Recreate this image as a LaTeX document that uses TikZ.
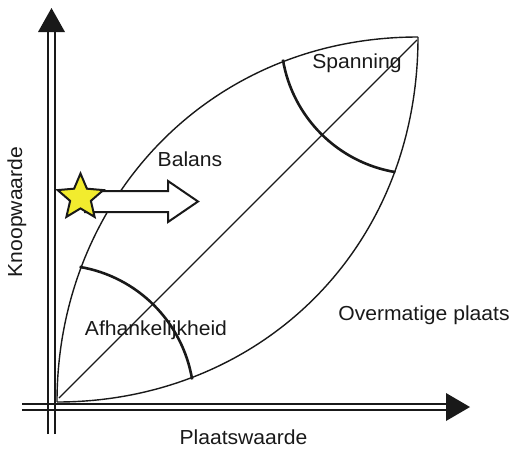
\documentclass[tikz,border=0pt]{standalone}
\usepackage{fontspec}
\setmainfont{Liberation Sans}[FakeStretch=1.04]
\usetikzlibrary{shapes.geometric}
\definecolor{staryellow}{RGB}{242,236,46}
\tikzset{
  axisline/.style={line width=2pt, black!90},
  axishead/.style={fill=black!90, draw=none},
  curve/.style={line width=1.4pt, black!90},
  diag/.style={line width=1.2pt, black!90},
  zone/.style={line width=2.6pt, black!90},
  lbl/.style={font=\fontsize{20.3}{23}\selectfont, text=black!90, inner sep=0pt},
}
\begin{document}
\begin{tikzpicture}[x=1pt,y=-1pt]
\useasboundingbox (0,0) rectangle (513,448);
% axes
\draw[axisline] (48,434) -- (48,32);
\draw[axisline] (55,434) -- (55,32);
\fill[axishead] (38,32) -- (65,32) -- (51.5,8) -- cycle;
\draw[axisline] (22,404) -- (446,404);
\draw[axisline] (22,410) -- (446,410);
\fill[axishead] (446,393) -- (446,421) -- (470,407) -- cycle;
% main shapes
\coordinate (O) at (57,402);
\coordinate (T) at (418,37);
\draw[curve] (O) .. controls (57,202) and (207,37) .. (T);
\draw[curve] (O) .. controls (257,402) and (418,252) .. (T);
\draw[diag] (59,398) -- (417,40);
% zone arcs
\draw[zone] (O) ++(-80.5:137) arc (-80.5:-9.5:137);
\draw[zone] (T) ++(170.5:137) arc (170.5:99.5:137);
% block arrow
\draw[line width=2pt, black!90, fill=white, line join=miter]
  (85,191) -- (168,191) -- (168,181) -- (198,201.5) -- (168,222) -- (168,212) -- (85,212) -- cycle;
\node[star, star points=5, star point ratio=2.2, minimum size=48pt, inner sep=0pt,
      fill=staryellow, draw=black!90, line width=2pt] (star) at (80.5,197.5) {};
% labels
\node[lbl] (balans) at (190,159) {Balans};
\node[lbl] (spanning) at (357,63) {Spanning};
\node[lbl] (afh) at (156,330) {Afhankelijkheid};
\node[lbl] (over) at (424,315) {Overmatige plaats};
\node[lbl] (px) at (243.5,437) {Plaatswaarde};
\node[lbl, rotate=90] (py) at (17,212) {Knoopwaarde};
\end{tikzpicture}
\end{document}
